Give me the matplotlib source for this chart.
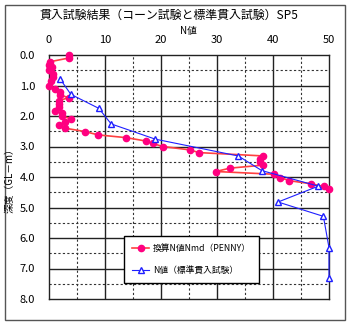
import matplotlib
matplotlib.use('Agg')
import matplotlib.pyplot as plt
from matplotlib.patches import Rectangle

plt.rcParams['font.family'] = ['Noto Sans CJK JP', 'DejaVu Sans']

# 換算N値Nmd (PENNY)
penny_n = [3.5, 3.5, 0.2, 0.0, 0.5, 0.0, 0.7, 0.8, 0.4, 0.0, 1.0, 2.0, 2.0, 3.5,
           1.7, 1.7, 1.7, 1.0, 2.3, 2.3, 4.0, 2.9, 1.7, 2.9, 6.4, 8.8, 13.8,
           17.3, 18.5, 20.3, 25.1, 26.8, 38.3, 37.7, 37.7, 38.3, 32.3, 29.8,
           40.2, 41.3, 42.9, 46.7, 49.1, 50.0]
penny_depth = [0.0, 0.1, 0.22, 0.33, 0.38, 0.49, 0.62, 0.73, 0.85, 1.0, 1.1, 1.2,
               1.31, 1.4, 1.5, 1.6, 1.7, 1.82, 1.91, 2.0, 2.1, 2.2, 2.3, 2.4,
               2.51, 2.62, 2.71, 2.82, 2.9, 3.0, 3.11, 3.2, 3.31, 3.42, 3.52,
               3.61, 3.71, 3.82, 3.91, 4.02, 4.12, 4.22, 4.31, 4.4]

# N値 (標準貫入試験)
spt_n = [2.0, 3.9, 8.9, 11.1, 19.0, 33.8, 38.0, 48.1, 40.9, 49.0, 50.0, 50.0]
spt_depth = [0.79, 1.29, 1.75, 2.26, 2.76, 3.31, 3.79, 4.3, 4.82, 5.29, 6.32, 7.3]

x_ticks = [0, 10, 20, 30, 40, 50]
y_ticks = [0.0, 1.0, 2.0, 3.0, 4.0, 5.0, 6.0, 7.0, 8.0]

fig = plt.figure(figsize=(3.5, 3.24), dpi=100)
fig.patches.append(Rectangle((5 / 350, 4 / 324), 340 / 350, 315 / 324,
                             transform=fig.transFigure, fill=False,
                             edgecolor='#555555', linewidth=1.0))

ax = fig.add_axes([49 / 350, 1 - 299 / 324, 280 / 350, 244 / 324])
ax.set_xlim(0, 50)
ax.set_ylim(8, 0)

for v in [5, 15, 25, 35, 45]:
    ax.axvline(v, color='#333333', linestyle=(0, (2, 2)), linewidth=0.8, zorder=1)
for v in [10, 20, 30, 40]:
    ax.axvline(v, color='#222222', linewidth=1.0, zorder=1)
for v in [0.5, 1.5, 2.5, 3.5, 4.5, 5.5, 6.5, 7.5]:
    ax.axhline(v, color='#333333', linestyle=(0, (2, 2)), linewidth=0.8, zorder=1)
for v in [1, 2, 3, 4, 5, 6, 7]:
    ax.axhline(v, color='#222222', linewidth=1.0, zorder=1)

ax.plot(penny_n, penny_depth, color='#ff4040', linewidth=1.2, marker='o',
        markersize=4.5, markerfacecolor='#ff0080', markeredgecolor='#ff0080',
        label='換算N値Nmd（PENNY）', zorder=3, clip_on=False)
ax.plot(spt_n, spt_depth, color='#1f1fff', linewidth=0.8, marker='^',
        markersize=5, markerfacecolor='white', markeredgecolor='#1f1fff',
        label='N値（標準貫入試験）', zorder=4, clip_on=False)

ax.xaxis.tick_top()
ax.set_xticks(x_ticks)
ax.set_xticklabels([str(t) for t in x_ticks])
ax.set_yticks(y_ticks)
ax.set_yticklabels([f'{t:.1f}' for t in y_ticks])
ax.tick_params(axis='y', length=0, labelsize=8, pad=10)
ax.tick_params(axis='x', length=0, labelsize=8, pad=7)
for s in ax.spines.values():
    s.set_linewidth(1.0)
    s.set_color('#222222')

leg = fig.legend(loc='upper left', bbox_to_anchor=(124 / 350, 1 - 236 / 324),
                 fontsize=6.3, frameon=True, fancybox=False, edgecolor='black',
                 framealpha=1, handlelength=2.0, handletextpad=0.4,
                 borderpad=0.9, labelspacing=1.5, borderaxespad=0)
leg.get_frame().set_linewidth(1.0)

fig.text(169 / 350, 1 - 15 / 324, '貫入試験結果（コーン試験と標準貫入試験）SP5',
         ha='center', va='center', fontsize=8.6)
fig.text(188 / 350, 1 - 31 / 324, 'N値', ha='center', va='center', fontsize=7)
fig.text(10 / 350, 1 - 178 / 324, '深度（GL－m）', ha='center', va='center',
         fontsize=7, rotation=90)

fig.savefig('out.png', dpi=100)
